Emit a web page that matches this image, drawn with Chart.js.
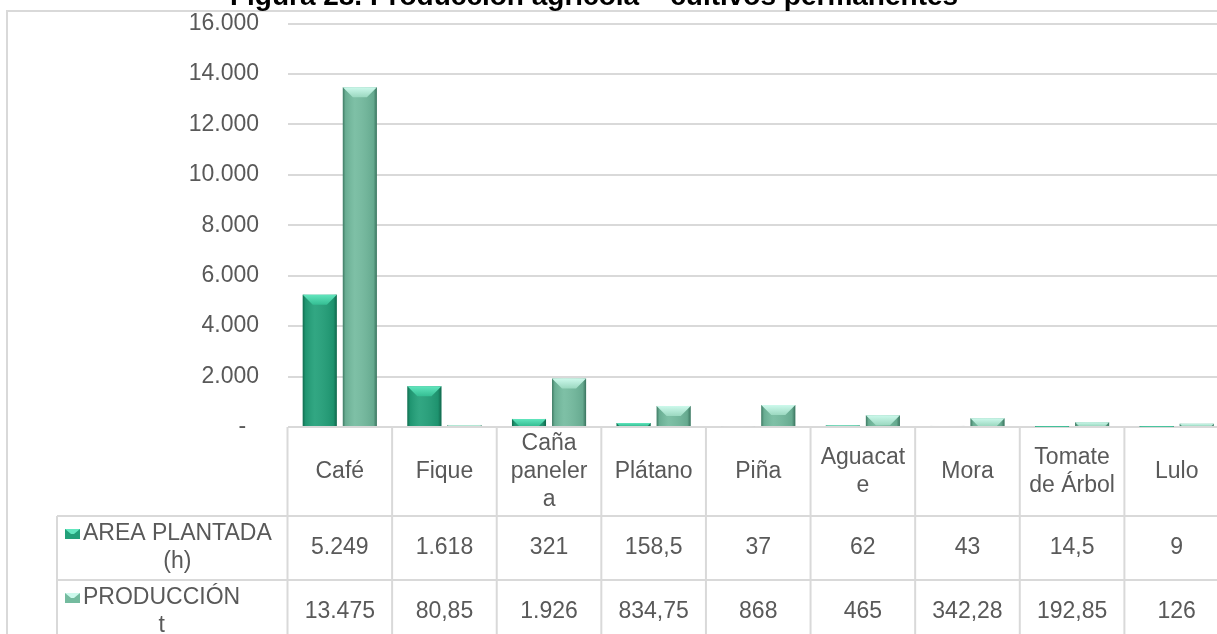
<!DOCTYPE html>
<html>
<head>
<meta charset="utf-8">
<script src="https://cdn.jsdelivr.net/npm/chart.js@4.4.1/dist/chart.umd.min.js"></script>
<style>
    html, body { margin: 0; padding: 0; background: #fff; overflow: hidden; }
    canvas { display: block; }
</style>
</head>
<body>
<canvas id="cultivosChart" width="1232" height="634"></canvas>
<script>
const chart_title = 'Figura 28. Producción agrícola – cultivos permanentes';
const categories = ['Café', 'Fique', 'Caña panelera', 'Plátano', 'Piña', 'Aguacate', 'Mora', 'Tomate de Árbol', 'Lulo'];
const series_names = ['AREA PLANTADA\n(h)', 'PRODUCCIÓN\nt'];
const area_plantada = [5249, 1618, 321, 158.5, 37, 62, 43, 14.5, 9];
const produccion = [13475, 80.85, 1926, 834.75, 868, 465, 342.28, 192.85, 126];
const y_max = 16000;
const y_step = 2000;

const FONT = "'Liberation Sans', Arial, sans-serif";
const TEXT_COLOR = '#595959';
const LINE_COLOR = '#d9d9d9';
const bar_colors = ['#22a079', '#74bb9f'];
const bevel_colors = [['#62e6be', '#35be93'], ['#cdf9ec', '#9bd8c0']];

Chart.defaults.font.family = FONT;

// 5249 -> "5.249", 158.5 -> "158,5"
function formatEs(v) {
    const parts = String(v).split('.');
    const int = parts[0].replace(/\B(?=(\d{3})+(?!\d))/g, '.');
    return parts[1] ? int + ',' + parts[1] : int;
}

// excel-like wrapping, breaks long words too
function wrapText(ctx, text, maxW) {
    const lines = [];
    let cur = '';
    for (const word of text.split(' ')) {
        const test = cur ? cur + ' ' + word : word;
        if (ctx.measureText(test).width <= maxW) {
            cur = test;
            continue;
        }
        if (cur) lines.push(cur);
        cur = word;
        while (ctx.measureText(cur).width > maxW && cur.length > 1) {
            let n = cur.length - 1;
            while (n > 1 && ctx.measureText(cur.slice(0, n)).width > maxW) n--;
            lines.push(cur.slice(0, n));
            cur = cur.slice(n);
        }
    }
    if (cur) lines.push(cur);
    return lines;
}

function line(ctx, x1, y1, x2, y2) {
    ctx.beginPath();
    ctx.moveTo(x1, y1);
    ctx.lineTo(x2, y2);
    ctx.stroke();
}

function shadeBar(ctx, el, k) {
    const p = el.getProps(['x', 'y', 'base', 'width'], true);
    const l = p.x - p.width / 2, r = p.x + p.width / 2;
    const t = Math.min(p.y, p.base), b = Math.max(p.y, p.base);
    const h = b - t;
    if (h <= 0) return;
    const g = ctx.createLinearGradient(l, 0, r, 0);
    g.addColorStop(0, 'rgba(0,45,30,0.45)');
    g.addColorStop(0.08, 'rgba(0,45,30,0.10)');
    g.addColorStop(0.35, 'rgba(255,255,255,0.07)');
    g.addColorStop(0.9, 'rgba(0,45,30,0.12)');
    g.addColorStop(1, 'rgba(0,45,30,0.5)');
    ctx.fillStyle = g;
    ctx.fillRect(l, t, p.width, h);
    // top bevel
    const bh = Math.min(10, h);
    ctx.beginPath();
    ctx.moveTo(l, t);
    ctx.lineTo(r, t);
    ctx.lineTo(r - bh, t + bh);
    ctx.lineTo(l + bh, t + bh);
    ctx.closePath();
    const tg = ctx.createLinearGradient(0, t, 0, t + bh);
    tg.addColorStop(0, bevel_colors[k][0]);
    tg.addColorStop(1, bevel_colors[k][1]);
    ctx.fillStyle = tg;
    ctx.fill();
}

const decorPlugin = {
    id: 'decor',
    beforeDraw(chart) {
        const ctx = chart.ctx;
        ctx.save();
        ctx.fillStyle = '#fff';
        ctx.fillRect(0, 0, chart.width, chart.height);
        ctx.strokeStyle = LINE_COLOR;
        ctx.lineWidth = 2;
        ctx.strokeRect(7, 11, chart.width + 20, chart.height + 20);
        ctx.fillStyle = '#000';
        ctx.font = 'bold 28px ' + FONT;
        ctx.textAlign = 'center';
        ctx.textBaseline = 'alphabetic';
        ctx.fillText(chart_title, 594, 4.5);
        ctx.restore();
    },
    afterDatasetsDraw(chart) {
        const ctx = chart.ctx;
        ctx.save();
        chart.data.datasets.forEach((ds, k) => {
            chart.getDatasetMeta(k).data.forEach(el => shadeBar(ctx, el, k));
        });
        ctx.restore();
    },
    afterDraw(chart) {
        const ctx = chart.ctx;
        const xs = chart.scales.x;
        const area = chart.chartArea;
        const n = categories.length;
        const colW = (area.right - area.left) / n;
        const top = area.bottom;
        const headerB = top + 89;
        const row1B = headerB + 64;
        const legendL = 57;
        const H = chart.height;
        const lh = 28;

        ctx.save();
        ctx.strokeStyle = LINE_COLOR;
        ctx.lineWidth = 2;
        for (let i = 0; i <= n; i++) {
            const x = area.left + i * colW;
            line(ctx, x, top, x, H);
        }
        line(ctx, legendL, headerB, legendL, H);
        line(ctx, legendL, headerB, area.right, headerB);
        line(ctx, legendL, row1B, area.right, row1B);

        ctx.fillStyle = TEXT_COLOR;
        ctx.font = '23px ' + FONT;
        ctx.textAlign = 'center';
        ctx.textBaseline = 'middle';

        // header row
        categories.forEach((c, i) => {
            const lines = wrapText(ctx, c, colW - 17);
            const cy = (top + headerB) / 2;
            const y0 = cy - (lines.length - 1) * lh / 2;
            const x = xs.getPixelForValue(i);
            lines.forEach((s, j) => ctx.fillText(s, x, y0 + j * lh));
        });

        // data rows
        const rows = [[headerB, row1B], [row1B, row1B + 64]];
        chart.data.datasets.forEach((ds, k) => {
            const cy = (rows[k][0] + rows[k][1]) / 2;
            ds.data.forEach((v, i) => {
                ctx.fillText(formatEs(v), xs.getPixelForValue(i), cy);
            });
            const lines = ds.label.split('\n');
            const blockW = Math.max(...lines.map(s => ctx.measureText(s).width));
            const y0 = cy - (lines.length - 1) * lh / 2;
            const cx = 83 + blockW / 2;
            lines.forEach((s, j) => ctx.fillText(s, cx, y0 + j * lh));
            // legend key
            ctx.fillStyle = bar_colors[k];
            ctx.fillRect(65, y0 - 5, 15, 10);
            ctx.fillStyle = bevel_colors[k][0];
            ctx.beginPath();
            ctx.moveTo(65, y0 - 5);
            ctx.lineTo(80, y0 - 5);
            ctx.lineTo(74, y0);
            ctx.lineTo(71, y0);
            ctx.closePath();
            ctx.fill();
            ctx.fillStyle = TEXT_COLOR;
        });
        ctx.restore();
    }
};

new Chart(document.getElementById('cultivosChart'), {
    type: 'bar',
    data: {
        labels: categories,
        datasets: [{
                label: series_names[0],
                data: area_plantada,
                backgroundColor: bar_colors[0],
                categoryPercentage: 0.766,
                barPercentage: 0.85
            },
            {
                label: series_names[1],
                data: produccion,
                backgroundColor: bar_colors[1],
                categoryPercentage: 0.766,
                barPercentage: 0.85
            }
        ]
    },
    options: {
        responsive: false,
        animation: false,
        layout: {
            padding: { left: 0, right: 3, top: 23.5, bottom: 0 }
        },
        plugins: {
            legend: { display: false },
            tooltip: { enabled: false }
        },
        scales: {
            x: {
                ticks: { display: false },
                grid: { display: false },
                border: { display: false },
                afterFit: s => { s.height = 207; }
            },
            y: {
                min: 0,
                max: y_max,
                ticks: {
                    stepSize: y_step,
                    padding: 2.5,
                    color: TEXT_COLOR,
                    font: { size: 23 },
                    callback: v => v === 0 ? '-  ' : formatEs(v)
                },
                grid: {
                    color: LINE_COLOR,
                    lineWidth: 2,
                    drawTicks: true,
                    tickLength: 26,
                    tickColor: 'rgba(0,0,0,0)'
                },
                border: { display: false },
                afterFit: s => { s.width = 287.5; }
            }
        }
    },
    plugins: [decorPlugin]
});
</script>
</body>
</html>
